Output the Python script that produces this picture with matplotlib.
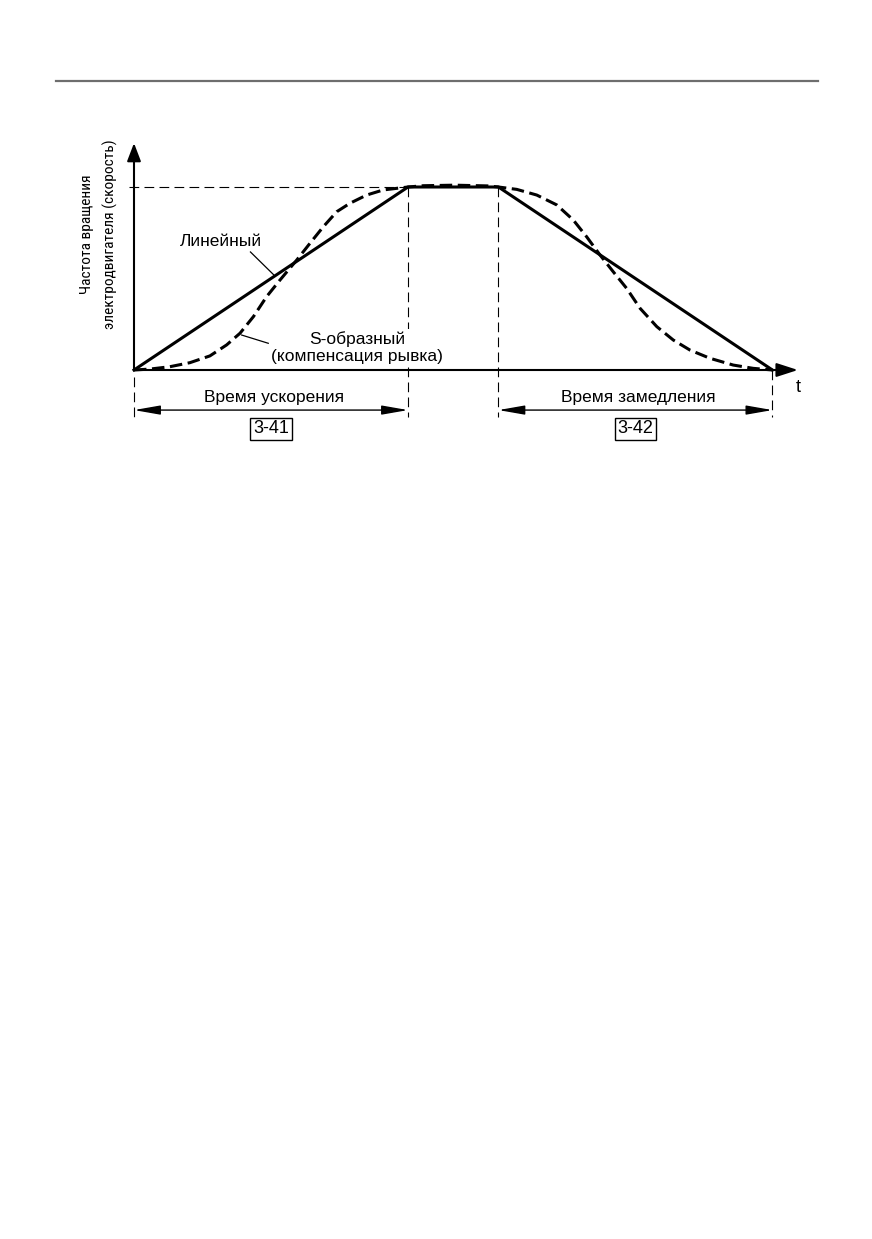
import os
import numpy as np
import matplotlib
matplotlib.use('Agg')
import matplotlib.pyplot as plt
from matplotlib.lines import Line2D
from matplotlib import font_manager

plt.rcParams['font.family'] = ['Liberation Sans', 'DejaVu Sans']
plt.rcParams['lines.scale_dashes'] = False

# time marks: end of acceleration, start/end of deceleration
t_acc = 1.0
t_dec0 = 1.33
t_dec1 = 2.33

# linear profile
lin_t = [0.0, t_acc, t_dec0, t_dec1]
lin_v = [0.0, 1.0, 1.0, 0.0]

# S-shaped profile
s_t = [0.0, 0.058, 0.131, 0.204, 0.277, 0.338, 0.387, 0.436, 0.484, 0.533,
       0.594, 0.642, 0.691, 0.740, 0.788, 0.849, 0.910, 1.0,
       1.056, 1.17, 1.29, 1.33,
       1.397, 1.470, 1.543, 1.603, 1.652, 1.701, 1.749, 1.798, 1.847,
       1.908, 1.968, 2.029, 2.102, 2.187, 2.260, 2.33]
s_v = [0.0, 0.005, 0.018, 0.040, 0.077, 0.137, 0.201, 0.292, 0.401, 0.492,
       0.601, 0.692, 0.783, 0.865, 0.911, 0.956, 0.984, 1.0,
       1.007, 1.01, 1.006, 1.0,
       0.987, 0.956, 0.902, 0.820, 0.728, 0.628, 0.537, 0.446, 0.337,
       0.237, 0.164, 0.109, 0.064, 0.027, 0.009, 0.0]

ylabel_lines = ['Частота вращения', 'электродвигателя (скорость)']

# a narrow face for the y label, if one is installed
narrow = None
cands = []
for f in font_manager.fontManager.ttflist:
    base = os.path.basename(f.fname).lower()
    is_narrow = ('narrow' in base or 'condensed' in base
                 or f.stretch in ('condensed', 'semi-condensed', 'extra-condensed', 500, 375, 250))
    if is_narrow and f.style == 'normal' and f.weight in (400, 'normal', 'regular') \
            and 'semi' not in base and 'extra' not in base:
        cands.append(f)
for key in ['liberationsansnarrow', 'arialn', 'roboto', 'dejavusanscondensed', '']:
    for f in cands:
        if os.path.basename(f.fname).lower().replace('-', '').startswith(key):
            narrow = f.fname
            break
    if narrow:
        break

fig = plt.figure(figsize=(8.72, 12.39), dpi=100)
ax = fig.add_axes([0, 0, 1, 1])
ax.set_xlim(-134 / 274, (872 - 134) / 274)
ax.set_ylim((370 - 1239) / 183, 370 / 183)
ax.axis('off')

# page rule at the top
fig.add_artist(Line2D([56 / 872, 818 / 872], [1 - 81 / 1239, 1 - 81 / 1239],
                      color='#6e6e6e', lw=1.6))

# axes with arrows
ax.annotate('', xy=(0, 1.24), xytext=(0, 0), zorder=5,
            arrowprops=dict(arrowstyle='-|>,head_length=1.1,head_width=0.42',
                            mutation_scale=10, lw=1.5, color='black',
                            shrinkA=0, shrinkB=0))
ax.annotate('', xy=(2.423, 0), xytext=(0, 0), zorder=5,
            arrowprops=dict(arrowstyle='-|>,head_length=1.3,head_width=0.42',
                            mutation_scale=10, lw=1.5, color='black',
                            shrinkA=0, shrinkB=0))
ax.text(2.423, -0.093, 't', fontsize=13, ha='center', va='center')

# thin dashed guides
dash = (0, (7, 3.8))
ax.plot([-0.02, t_acc], [1, 1], color='black', lw=0.8, ls=dash, zorder=1)
ax.plot([0, 0], [-0.04, -0.257], color='black', lw=0.8, ls=dash, zorder=1)
ax.plot([t_acc, t_acc], [1, -0.257], color='black', lw=0.8, ls=dash, zorder=1)
ax.plot([t_dec0, t_dec0], [1, -0.257], color='black', lw=0.8, ls=dash, zorder=1)
ax.plot([t_dec1, t_dec1], [0, -0.257], color='black', lw=0.8, ls=dash, zorder=1)

# curves
ax.plot(lin_t, lin_v, color='black', lw=2.2, zorder=4)
ax.plot(s_t, s_v, color='black', lw=2.2, ls=(0, (9, 4)), zorder=4)

# leaders and labels
ax.plot([0.425, 0.51], [0.645, 0.52], color='black', lw=0.9, zorder=4)
ax.text(0.316, 0.701, 'Линейный', fontsize=12.5, ha='center', va='center')
ax.plot([0.393, 0.49], [0.191, 0.146], color='black', lw=0.9, zorder=4)
ax.text(0.815, 0.123, 'S-образный\n(компенсация рывка)', fontsize=12.5,
        ha='center', va='center', linespacing=1.2, zorder=3,
        bbox=dict(boxstyle='square,pad=0.1', fc='white', ec='none'))

# y label (two lines), fitted to the length seen in the picture
ylab = []
for xpos, line in zip([-0.172, -0.088], ylabel_lines):
    if narrow:
        fp = font_manager.FontProperties(fname=narrow, size=12)
    else:
        fp = font_manager.FontProperties(family='Liberation Sans', size=10.5)
    ylab.append(ax.text(xpos, 0.743, line, fontproperties=fp, rotation=90,
                        ha='center', va='center'))
fig.canvas.draw()
h = ylab[1].get_window_extent().height
target = 188 if narrow else 196
for t in ylab:
    t.set_fontsize(t.get_fontsize() * target / h)

# dimension arrows
for a, b, label, code in [(0, t_acc, 'Время ускорения', '3-41'),
                          (t_dec0, t_dec1, 'Время замедления', '3-42')]:
    ax.annotate('', xy=(b, -0.219), xytext=(a, -0.219),
                arrowprops=dict(arrowstyle='<|-|>,head_length=1.6,head_width=0.28',
                                mutation_scale=10, lw=1.0, color='black',
                                shrinkA=0, shrinkB=0))
    mid = (a + b) / 2
    ax.text(mid + 0.01, -0.153, label, fontsize=12.5, ha='center', va='center')
    ax.text(mid, -0.322, code, fontsize=13, ha='center', va='center',
            bbox=dict(boxstyle='square,pad=0.15', fc='white', ec='black', lw=1.0))

fig.savefig('out.png', dpi=100)
